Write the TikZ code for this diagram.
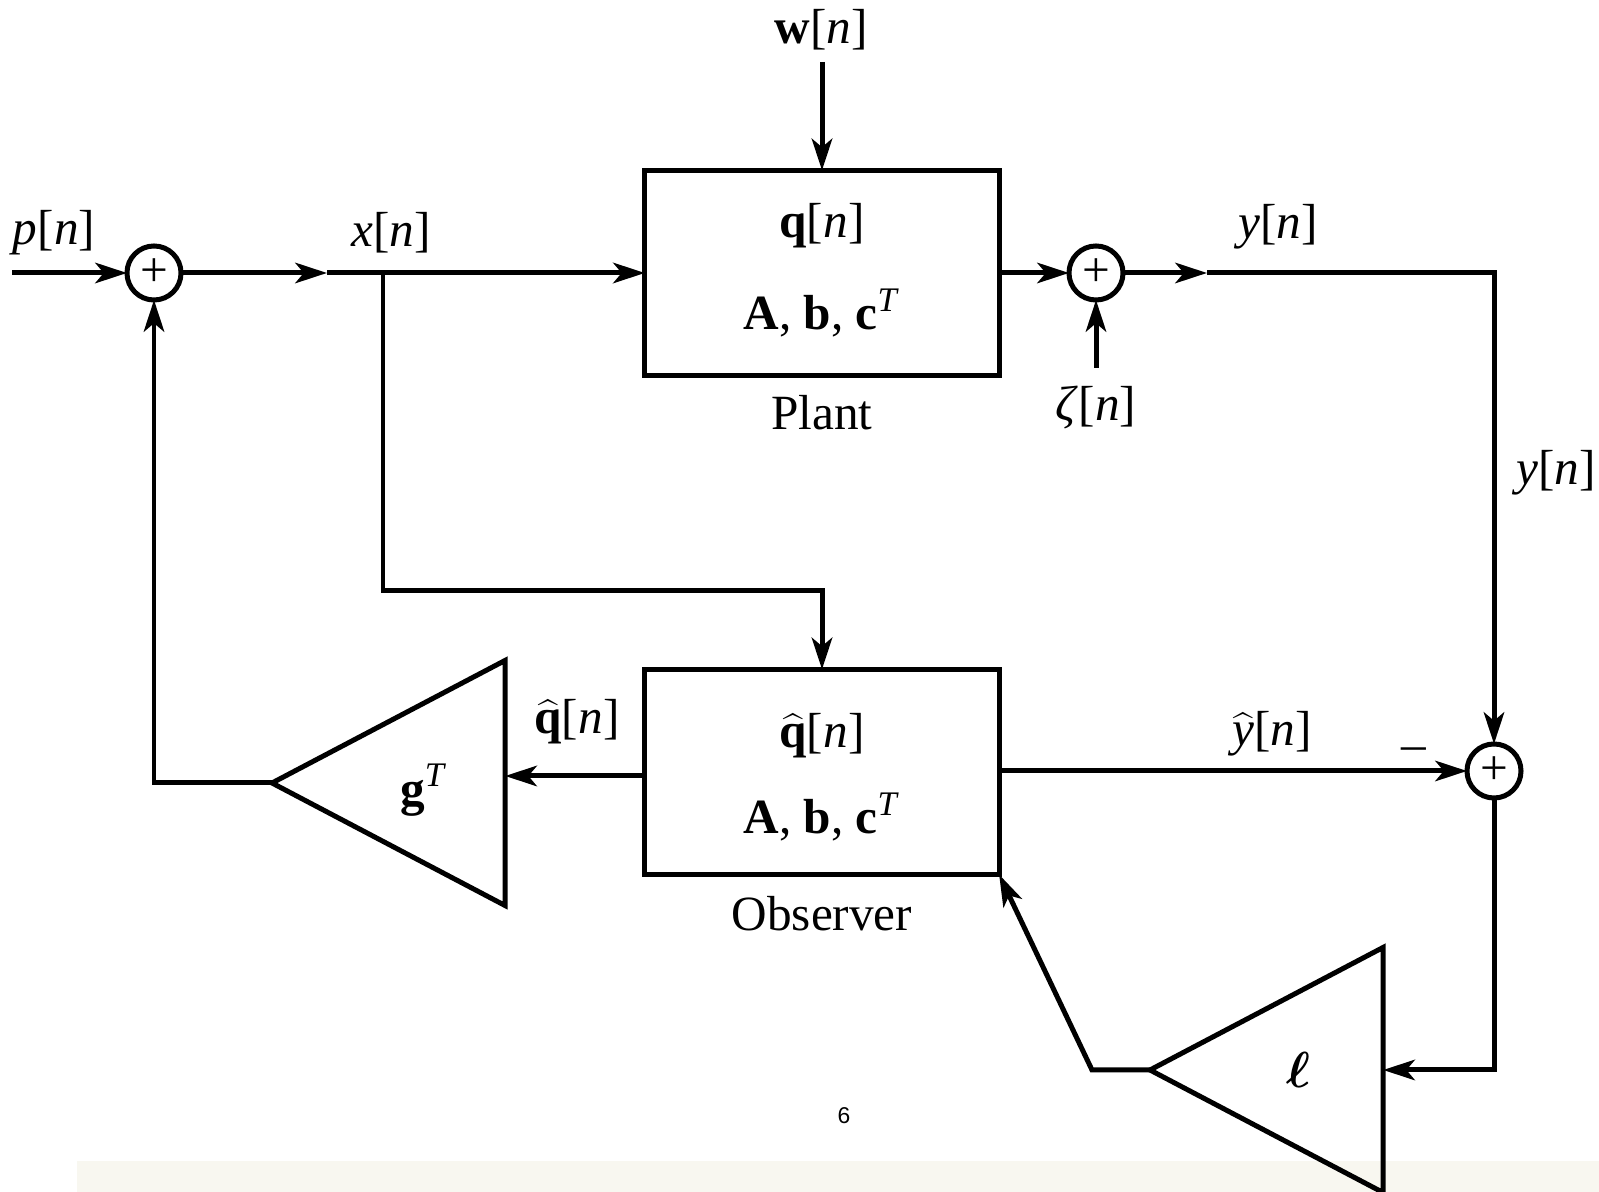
\documentclass[tikz,border=0pt]{standalone}
\usepackage{bm}
\usepackage{fontspec}
\setmainfont{Liberation Serif}
\setsansfont{Liberation Sans}
\usetikzlibrary{shapes.geometric,arrows.meta}
\definecolor{pagebg}{RGB}{248,247,240}
\newcommand{\sig}[1]{#1[\textit{n}]}
\newcommand{\abc}{\textbf{A}, \textbf{b}, \textbf{c}\textsuperscript{\textit{T}}}
\newcommand{\qhat}{$\widehat{\mbox{\textbf{q}}}$}
\begin{document}
\begin{tikzpicture}[
    x=0.01cm, y=-0.01cm,
    line width=1.42pt,
    every node/.style={font=\fontsize{14}{16}\selectfont},
    block/.style={draw, minimum width=3.54cm, minimum height=2.05cm, inner sep=0pt, outer sep=0pt},
    sumnode/.style={draw, circle, minimum size=0.54cm, inner sep=0pt, outer sep=0pt},
    gain/.style={draw, isosceles triangle, isosceles triangle stretches, shape border rotate=180,
        minimum width=2.45cm, minimum height=2.33cm, inner sep=0pt, outer sep=0pt, anchor=apex},
    arrow/.style={-{Stealth[length=9pt, width=5.8pt, inset=2.4pt]}}
]
    \fill[pagebg] (77,1161) rectangle (1599,1192);
    \useasboundingbox (0,0) rectangle (1599,1192);

    \node[sumnode] (s1) at (154,273) {+};
    \node[block] (plant) at (822,273) {};
    \node[sumnode] (s2) at (1096,273) {+};
    \node[block] (obs) at (822,772) {};
    \node[sumnode] (s3) at (1494,771) {+};
    \node[gain] (ggain) at (272,783) {};
    \node[gain] (lgain) at (1150,1070) {};

    \node (plq) at (822,226) {\sig{\textbf{q}}};
    \node (plabc) at (822,313) {\abc};
    \node (pltxt) at (822,413) {Plant};
    \node (obq) at (822,736) {\sig{\qhat}};
    \node (obabc) at (822,817) {\abc};
    \node (obtxt) at (822,914) {Observer};
    \node (glbl) at (424,790) {\textbf{g}\textsuperscript{\textit{T}}};
    \node (llbl) at (1298,1070) {$\bm{\ell}$};

    \node (plbl) at (54,233) {\sig{\textit{p}}};
    \node (xlbl) at (391,233) {\sig{\textit{x}}};
    \node (wlbl) at (821,30) {\sig{\textbf{w}}};
    \node (ylbl) at (1278,227) {\sig{\textit{y}}};
    \node (zlbl) at (1096,408) {\sig{\textit{ζ}}};
    \node (yrlbl) at (1556,473) {\sig{\textit{y}}};
    \node (qlbl) at (577,722) {\sig{\qhat}};
    \node (yhlbl) at (1272,734) {\sig{$\widehat{\mbox{\textit{y}}}$}};
    \node (minus) at (1414,754) {\textendash};
    \node[font=\sffamily\fontsize{6.5}{8}\selectfont] (pgno) at (844,1116) {6};

    \coordinate (pin) at (12,273);
    \coordinate (xmid) at (327,273);
    \coordinate (xtap) at (383,273);
    \coordinate (xturn) at (383,591);
    \coordinate (win) at (822,62);
    \coordinate (ymid) at (1207,273);
    \coordinate (zin) at (1096,368);
    \coordinate (qh) at (600,776);
    \coordinate (lturn) at (1092,1070);

    \draw[arrow] (pin) -- (s1);
    \draw[arrow] (s1) -- (xmid);
    \draw[arrow] (xmid) -- (plant);
    \draw[arrow] (xtap) -- (xturn) -| (obs);
    \draw[arrow] (win) -- (plant);
    \draw[arrow] (plant) -- (s2);
    \draw[arrow] (zin) -- (s2);
    \draw[arrow] (s2) -- (ymid);
    \draw[arrow] (ymid) -| (s3);
    \draw[arrow] (obs.east |- s3) -- (s3);
    \draw[arrow] (obs.west |- qh) -- (ggain.lower side |- qh);
    \draw[arrow] (ggain.apex) -| (s1);
    \draw[arrow] (s3) |- (lgain.lower side);
    \draw[arrow] (lgain.apex) -- (lturn) -- (obs.south east);
\end{tikzpicture}
\end{document}
